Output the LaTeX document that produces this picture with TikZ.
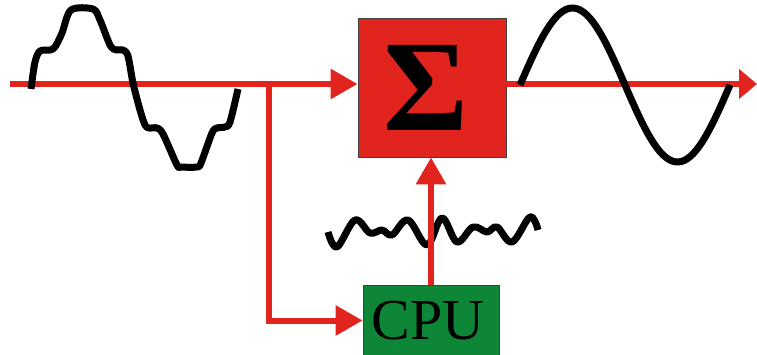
\documentclass[tikz,border=0pt]{standalone}
\usepackage{fontspec}
\setmainfont{Liberation Serif}
\usetikzlibrary{arrows.meta}
\definecolor{sigred}{RGB}{226,36,30}
\definecolor{cpugreen}{RGB}{14,134,56}
\tikzset{
  sig/.style={draw=sigred,line width=6pt,-{Triangle[length=27pt,width=29pt]}},
  wave/.style={line width=7pt,line join=round},
  block/.style={draw=black!75,line width=0.8pt,inner sep=0pt}
}
\begin{document}
\begin{tikzpicture}[x=1pt,y=-1pt]
  \useasboundingbox (0,0) rectangle (757,355);
  \node[block,fill=sigred,minimum width=148pt,minimum height=139pt] (sum) at (432,87.5) {\fontsize{130}{130}\selectfont\textbf{Σ}\kern12pt};
  \node[block,fill=cpugreen,minimum width=136pt,minimum height=71pt] (cpu) at (431,320.5) {\fontsize{58}{58}\selectfont CPU\kern6pt};
  \coordinate (in) at (10,84);
  \coordinate (branch) at (269,84);
  \coordinate (out) at (757,84);
  % noise from the cpu
  \draw[wave] plot[smooth,tension=0.6] coordinates {(328,232) (337,247) (355,220) (370,233) (382,230) (392,235) (408,220) (427,245) (442,218) (457,242) (473,227) (487,232) (497,227) (512,242) (530,217) (538,230)};
  % signal paths
  \draw[sig] (in) -- (in -| sum.west);
  \draw[sig] (branch) |- (cpu.west);
  \draw[sig] (cpu.north) -- (cpu.north |- sum.south);
  \draw[sig,-{Triangle[length=18pt,width=29pt]}] (sum.east |- out) -- (out);
  % input and output waves
  \draw[wave] plot[smooth,tension=0.5] coordinates {(31,89) (35,62) (40,51) (50,50) (55,47) (62,33) (71,10) (93,9) (100,20) (110,45) (116,50) (123,50) (128,56) (133,83) (140,110) (145,125) (149,128) (157,128) (163,134) (177,165) (181,167) (197,167) (201,163) (212,133) (217,128) (225,127) (230,122) (238,89)};
  \draw[wave] plot[domain=520:730,samples=70] (\x,{85-77*sin(1.7143*(\x-520))});
\end{tikzpicture}
\end{document}
